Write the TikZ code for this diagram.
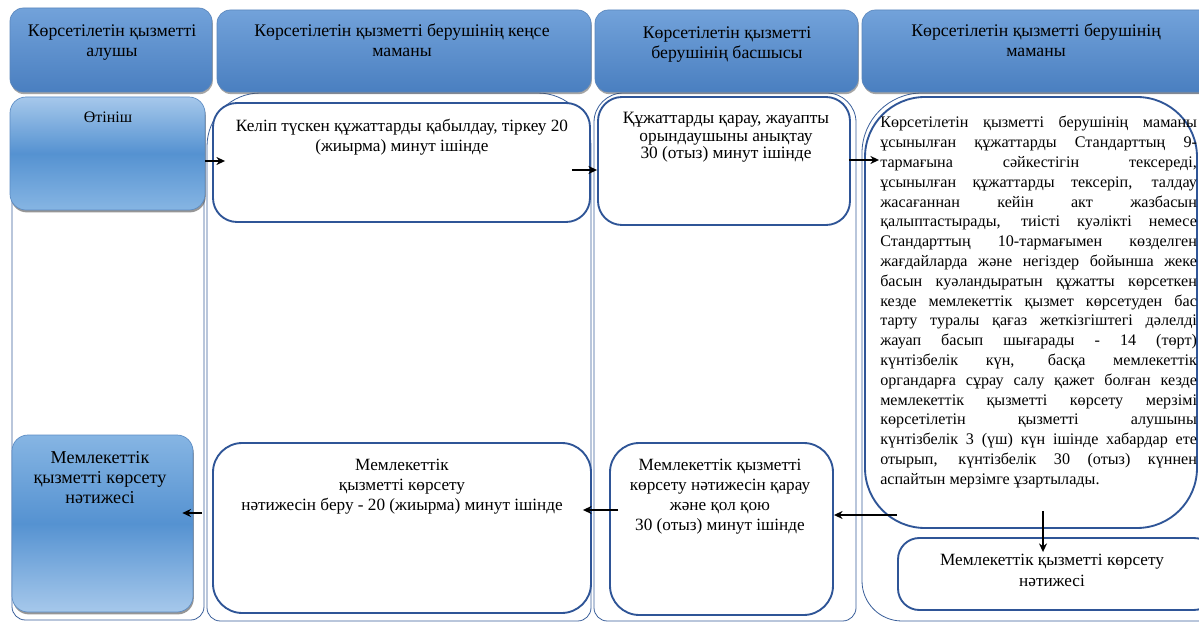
\documentclass[tikz,border=0pt]{standalone}
\usepackage{fontspec}
\setmainfont{Liberation Serif}
\usetikzlibrary{fit,calc,arrows.meta,shadows}
\definecolor{bord}{HTML}{2F5597}
\definecolor{lanec}{HTML}{3A5F9A}
\definecolor{hdrtop}{HTML}{72A2DA}
\definecolor{hdrbot}{HTML}{4A7FC0}
\definecolor{hdredge}{HTML}{5A86BC}
\definecolor{bltop}{HTML}{A6C8EB}
\definecolor{blmid}{HTML}{5592D1}
\definecolor{blbot}{HTML}{86B5E3}
\definecolor{bledge}{HTML}{5C8CC4}
\newcommand\jline[1]{\hbox to 237.5pt{#1}}
\begin{document}
\begin{tikzpicture}[x=0.75pt,y=-0.75pt,
  hdr/.style={draw=hdredge, line width=0.5pt, rounded corners=10pt, top color=hdrtop, bottom color=hdrbot, inner sep=0pt,
    drop shadow={shadow xshift=0.6pt, shadow yshift=-1.6pt, opacity=0.5, fill=black!70}},
  bluebox/.style={draw=bledge, line width=0.5pt, rounded corners=12pt, inner sep=0pt,
    top color=bltop, bottom color=blbot, middle color=blmid,
    drop shadow={shadow xshift=0.6pt, shadow yshift=-1.8pt, opacity=0.55, fill=black!75}},
  wbox/.style={draw=bord, line width=1.4pt, fill=white, inner sep=0pt},
  lane/.style={draw=lanec, line width=0.6pt},
  txt/.style={font=\fontsize{12.9}{15}\selectfont, align=center, inner sep=0pt, text=black},
  htxt/.style={txt, font=\fontsize{13.3}{15}\selectfont},
  arr/.style={line width=1.1pt, -{Stealth[length=6.5pt,width=6pt]}}
]
\useasboundingbox (0,0) rectangle (1199,623);
\clip (0,0) rectangle (1199,623);
\fill[white] (0,0) rectangle (1199,623);

% lanes
\draw[lane, rounded corners=10pt] (12,100) rectangle (204,620);
\draw[lane] (207,350) [rounded corners=40pt] -- (207,93) -- (591,93) -- (591,350) [rounded corners=10pt] -- (591,621) -- (207,621) -- (207,350);
\draw[lane] (594,350) [rounded corners=22pt] -- (594,93) -- (856,93) -- (856,350) [rounded corners=10pt] -- (856,621) -- (594,621) -- (594,350);
\draw[lane] (1220,93) [rounded corners=45pt] -- (862,93) -- (862,400) [rounded corners=30pt] -- (862,621) -- (1220,621);

% headers
\node[hdr, fit={(10,8) (212,92)}] (h1) {};
\node[hdr, fit={(217,10) (591,92)}] (h2) {};
\node[hdr, fit={(595,10) (858,92)}] (h3) {};
\node[hdr, fit={(862,10) (1215,92)}] (h4) {};
\node[htxt, anchor=north] (t1) at (112,24) {Көрсетілетін қызметті\\алушы};
\node[htxt, anchor=north] (t2) at (402,24) {Көрсетілетін қызметті берушінің кеңсе\\маманы};
\node[htxt, anchor=north] (t3) at (727,26) {Көрсетілетін қызметті\\берушінің басшысы};
\node[htxt, anchor=north] (t4) at (1036,24) {Көрсетілетін қызметті берушінің\\маманы};

% blue boxes
\node[bluebox, fit={(10,97) (205,210)}] (o) {};
\node[txt, font=\fontsize{12}{15}\selectfont, anchor=north] (ot) at (108,112) {Өтініш};
\node[bluebox, top color=blbot, bottom color=bltop, middle color=blmid, fit={(12,435) (193,612)}] (res) {};
\node[txt, font=\fontsize{13.6}{15}\selectfont, anchor=north] (rest) at (100,451) {Мемлекеттік\\қызметті көрсету\\нәтижесі};

% white boxes
\node[wbox, rounded corners=18pt, fit={(213,103) (590,222)}] (b1) {};
\node[txt, anchor=north] (b1t) at (402,119) {Келіп түскен құжаттарды қабылдау, тіркеу 20\\(жиырма) минут ішінде};

\node[wbox, rounded corners=18pt, fit={(598,97) (850,225)}] (b3) {};
\node[txt, font=\fontsize{13}{13.2}\selectfont, anchor=north] (b3t) at (726,112) {Құжаттарды қарау, жауапты\\орындаушыны анықтау\\30 (отыз) минут ішінде};

\node[wbox, rounded corners=45pt, fit={(865,97) (1197,528)}] (b4) {};
\node[inner sep=0pt, anchor=north west, font=\fontsize{12.1}{14.85}\selectfont] (b4t) at (880,116) {\vbox{\baselineskip=14.85pt
\jline{Көрсетілетін қызметті берушінің маманы}
\jline{ұсынылған құжаттарды Стандарттың 9-}
\jline{тармағына сәйкестігін тексереді,}
\jline{ұсынылған құжаттарды тексеріп, талдау}
\jline{жасағаннан кейін акт жазбасын}
\jline{қалыптастырады, тиісті куәлікті немесе}
\jline{Стандарттың 10-тармағымен көзделген}
\jline{жағдайларда және негіздер бойынша жеке}
\jline{басын куәландыратын құжатты көрсеткен}
\jline{кезде мемлекеттік қызмет көрсетуден бас}
\jline{тарту туралы қағаз жеткізгіштегі дәлелді}
\jline{жауап басып шығарады - 14 (төрт)}
\jline{күнтізбелік күн, басқа мемлекеттік}
\jline{органдарға сұрау салу қажет болған кезде}
\jline{мемлекеттік қызметті көрсету мерзімі}
\jline{көрсетілетін қызметті алушыны}
\jline{күнтізбелік 3 (үш) күн ішінде хабардар ете}
\jline{отырып, күнтізбелік 30 (отыз) күннен}
\hbox{аспайтын мерзімге ұзартылады.}}};

\node[wbox, rounded corners=22pt, fit={(213,443) (591,613)}] (b2) {};
\node[txt, anchor=north] (b2t) at (402,459) {Мемлекеттік\\қызметті көрсету\\нәтижесін беру - 20 (жиырма) минут ішінде};

\node[wbox, rounded corners=22pt, fit={(610,443) (833,615)}] (b5) {};
\node[txt, anchor=north] (b5t) at (720,459) {Мемлекеттік қызметті\\көрсету нәтижесін қарау\\және қол қою\\30 (отыз) минут ішінде};

\node[wbox, rounded corners=16pt, fit={(898,538) (1215,610)}] (b6) {};
\node[txt, font=\fontsize{12.9}{15.5}\selectfont, anchor=north] (b6t) at (1052,554) {Мемлекеттік қызметті көрсету\\нәтижесі};

% arrows
\draw[arr] (o.east |- 0,161) -- ($(b1.west |- 0,161)+(13,0)$);
\draw[arr] ($(b1.east |- 0,170)+(-19,0)$) -- (b3.west |- 0,170);
\draw[arr] ($(b3.east |- 0,160)+(-2,0)$) -- ($(b4.west |- 0,160)+(15,0)$);
\draw[arr] ($(b4.south -| 1043,0)+(0,-18)$) -- ($(b6.north -| 1043,0)+(0,15)$);
\draw[arr] ($(b4.west |- 0,515)+(33,0)$) -- (b5.east |- 0,515);
\draw[arr] ($(b5.west |- 0,510)+(9,0)$) -- ($(b2.east |- 0,510)+(-9,0)$);
\draw[arr] ($(b2.west |- 0,513)+(-10,0)$) -- ($(res.east |- 0,513)+(-11,0)$);
\end{tikzpicture}
\end{document}
